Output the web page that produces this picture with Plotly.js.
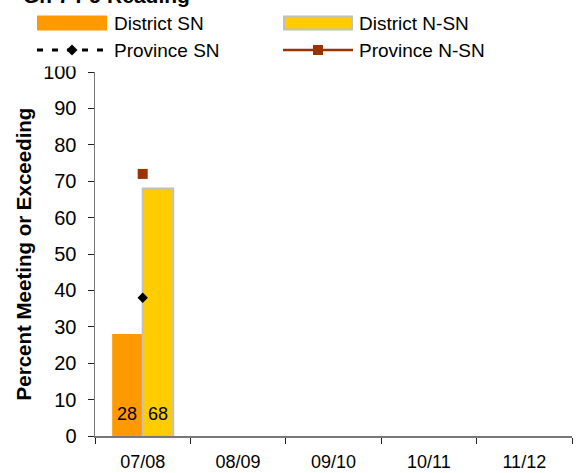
<!DOCTYPE html>
<html>
<head>
<meta charset="utf-8">
<script src="https://cdn.plot.ly/plotly-3.0.1.min.js"></script>
<style>html,body{margin:0;padding:0;background:#fff;}#chart{width:576px;height:473px;}</style>
</head>
<body>
<div id="chart"></div>
<script>
// ---- data ----
var years = ["07/08", "08/09", "09/10", "10/11", "11/12"];
var districtSN = [28, null, null, null, null];
var districtNSN = [68, null, null, null, null];
var provinceSN = [38, null, null, null, null];
var provinceNSN = [72, null, null, null, null];
var seriesNames = ["District SN", "District N-SN", "Province SN", "Province N-SN"];
var yTicks = [0, 10, 20, 30, 40, 50, 60, 70, 80, 90, 100];
var chartTitle = "Gr. 7 PJ Reading";
var yTitle = "Percent Meeting or Exceeding";

// ---- geometry helpers (pixel -> paper) ----
var W = 576, H = 473;
var M = {l: 95, r: 4, t: 72, b: 37};
var PW = W - M.l - M.r, PH = H - M.t - M.b;
function px(x) { return (x - M.l) / PW; }
function py(y) { return (H - M.b - y) / PH; }

var FONT = "Arial, 'Liberation Sans', sans-serif";
var orange = "#FF9900", yellow = "#FFCC00", gray = "#C0C0C0", brown = "#993300";

var traces = [
  {type: "bar", name: seriesNames[0], x: years, y: districtSN,
   marker: {color: orange, line: {color: orange, width: 0}}, hoverinfo: "skip"},
  {type: "bar", name: seriesNames[1], x: years, y: districtNSN,
   marker: {color: yellow, line: {color: gray, width: 2}}, hoverinfo: "skip"},
  {type: "scatter", mode: "lines+markers", name: seriesNames[2], x: years, y: provinceSN,
   line: {color: "#000", dash: "dash", width: 2},
   marker: {symbol: "diamond", size: 8, color: "#000"}, hoverinfo: "skip"},
  {type: "scatter", mode: "lines+markers", name: seriesNames[3], x: years, y: provinceNSN,
   line: {color: brown, width: 2},
   marker: {symbol: "square", size: 10, color: brown}, hoverinfo: "skip"}
];

var shapes = [];
var annotations = [];

// value labels at the foot of each bar
[[districtSN, -15.3], [districtNSN, 15.3]].forEach(function (s) {
  s[0].forEach(function (v, i) {
    if (v == null) return;
    annotations.push({xref: "x", yref: "y", x: years[i], y: 0, xshift: s[1], yshift: 22,
      yanchor: "middle", text: String(v), showarrow: false,
      font: {family: FONT, size: 18, color: "#000"}});
  });
});

// ---- custom legend (shapes + annotations) ----
shapes.push({type: "rect", xref: "paper", yref: "paper", layer: "above",
  x0: px(30), x1: px(560), y0: py(5), y1: py(66.5),
  fillcolor: "#fff", line: {width: 0}});
var cols = [37, 283], rows = [23, 50], textX = [112, 357];
shapes.push({type: "rect", xref: "paper", yref: "paper", layer: "above",
  x0: px(cols[0]), x1: px(cols[0] + 70), y0: py(rows[0] - 7.5), y1: py(rows[0] + 7.5),
  fillcolor: orange, line: {width: 0}});
shapes.push({type: "rect", xref: "paper", yref: "paper", layer: "above",
  x0: px(cols[1] + 1), x1: px(cols[1] + 69), y0: py(rows[0] - 6.5), y1: py(rows[0] + 6.5),
  fillcolor: yellow, line: {color: gray, width: 2}});
shapes.push({type: "line", xref: "paper", yref: "paper", layer: "above",
  x0: px(cols[0]), x1: px(cols[0] + 70), y0: py(rows[1]), y1: py(rows[1]),
  line: {color: "#000", width: 3, dash: "6px,9px"}});
(function () {
  var cx = cols[0] + 35, cy = rows[1], r = 5.5;
  shapes.push({type: "path", xref: "paper", yref: "paper", layer: "above",
    path: "M" + px(cx) + "," + py(cy - r) + " L" + px(cx + r) + "," + py(cy) +
      " L" + px(cx) + "," + py(cy + r) + " L" + px(cx - r) + "," + py(cy) + " Z",
    fillcolor: "#000", line: {width: 0}});
})();
shapes.push({type: "line", xref: "paper", yref: "paper", layer: "above",
  x0: px(cols[1]), x1: px(cols[1] + 70), y0: py(rows[1]), y1: py(rows[1]),
  line: {color: brown, width: 2.5}});
shapes.push({type: "rect", xref: "paper", yref: "paper", layer: "above",
  x0: px(cols[1] + 30), x1: px(cols[1] + 40), y0: py(rows[1] - 5), y1: py(rows[1] + 5),
  fillcolor: brown, line: {width: 0}});
var legendPos = [[0, 0], [1, 0], [0, 1], [1, 1]];
seriesNames.forEach(function (n, i) {
  annotations.push({xref: "paper", yref: "paper", x: px(textX[legendPos[i][0]]), y: py(rows[legendPos[i][1]]),
    xanchor: "left", yanchor: "middle", text: n, showarrow: false,
    font: {family: FONT, size: 19, color: "#000"}});
});

// chart title (only its lower edge is visible in the reference)
annotations.push({xref: "paper", yref: "paper", x: px(21), y: py(9), xanchor: "left", yanchor: "bottom",
  text: "<b>" + chartTitle + "</b>", showarrow: false, font: {family: FONT, size: 21, color: "#000"}});

var layout = {
  width: W, height: H,
  margin: M,
  paper_bgcolor: "#fff", plot_bgcolor: "#fff",
  showlegend: false,
  barmode: "group", bargap: 0.36, bargroupgap: 0,
  xaxis: {type: "category", categoryarray: years, categoryorder: "array", range: [-0.5, 4.5],
    tickson: "boundaries", ticks: "outside", ticklen: 6, tickcolor: "#222", tickwidth: 1,
    showline: true, linecolor: "#777", linewidth: 1.5, showgrid: false, zeroline: false,
    tickfont: {family: FONT, size: 18, color: "#000"}, ticklabelstandoff: 9, fixedrange: true},
  xaxis2: {overlaying: "x", anchor: "y", side: "bottom", range: [-0.5, 4.5],
    tickvals: [-0.5, 0.5, 1.5, 2.5, 3.5, 4.5], ticks: "inside", ticklen: 6, tickcolor: "#222",
    showticklabels: false, showline: false, showgrid: false, zeroline: false, fixedrange: true},
  yaxis: {range: [0, 100], tickvals: yTicks, ticks: "outside", ticklen: 6, tickcolor: "#222",
    showline: true, linecolor: "#777", linewidth: 1.5, showgrid: false, zeroline: false,
    tickfont: {family: FONT, size: 20, color: "#000"}, ticklabelstandoff: 7,
    title: {text: "<b>" + yTitle + "</b>", font: {family: FONT, size: 20.5, color: "#000"}, standoff: 6},
    fixedrange: true},
  yaxis2: {overlaying: "y", anchor: "x", side: "left", range: [0, 100], tickvals: yTicks,
    ticks: "inside", ticklen: 6, tickcolor: "#222", showticklabels: false,
    showline: false, showgrid: false, zeroline: false, fixedrange: true},
  shapes: shapes,
  annotations: annotations
};

Plotly.newPlot("chart", traces, layout, {staticPlot: true, displayModeBar: false});
</script>
</body>
</html>
